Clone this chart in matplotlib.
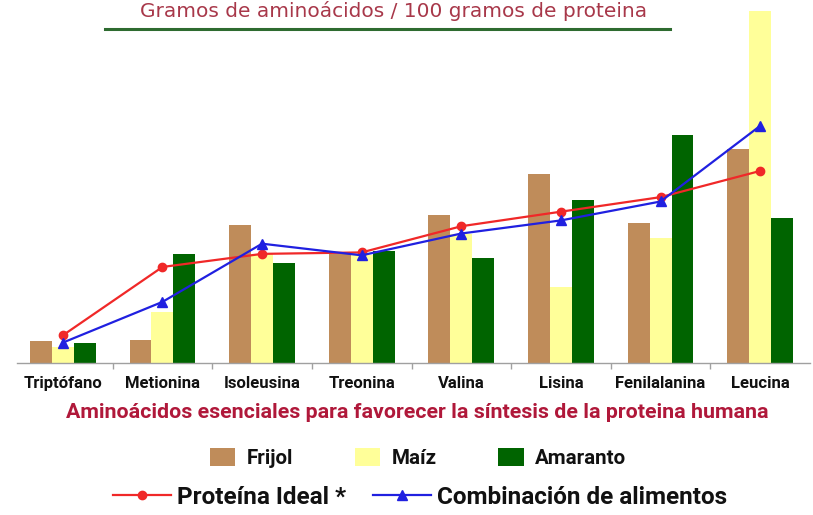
import matplotlib
matplotlib.use("Agg")
import matplotlib.pyplot as plt
from matplotlib.lines import Line2D
import numpy as np

categories = ["Triptófano", "Metionina", "Isoleusina", "Treonina", "Valina",
              "Lisina", "Fenilalanina", "Leucina"]
frijol = [0.75, 0.8, 4.75, 3.75, 5.1, 6.5, 4.8, 7.35]
maiz = [0.55, 1.75, 3.75, 3.7, 4.45, 2.6, 4.3, 12.1]
amaranto = [0.7, 3.75, 3.45, 3.85, 3.6, 5.6, 7.85, 5.0]
ideal = [0.95, 3.3, 3.75, 3.8, 4.7, 5.2, 5.7, 6.6]
combinacion = [0.7, 2.1, 4.1, 3.7, 4.45, 4.9, 5.55, 8.15]

title = "Gramos de aminoácidos / 100 gramos de proteina"
subtitle = "Aminoácidos esenciales para favorecer la síntesis de la proteina humana"

c_frijol = "#bf8c5a"
c_maiz = "#ffff99"
c_amar = "#006400"
narrow = ["Roboto", "DejaVu Sans"]

W, H = 813, 515
fig = plt.figure(figsize=(W / 100, H / 100), dpi=100)
fig.patch.set_facecolor("white")

base_px = 363
ax = fig.add_axes([17 / W, (H - base_px) / H, (810 - 17) / W, base_px / H])
x = np.arange(len(categories))
bw = 0.22
b1 = ax.bar(x - bw, frijol, bw, color=c_frijol, label="Frijol", zorder=2)
b2 = ax.bar(x, maiz, bw, color=c_maiz, label="Maíz", zorder=2)
b3 = ax.bar(x + bw, amaranto, bw, color=c_amar, label="Amaranto", zorder=2)
l1, = ax.plot(x, ideal, color="#f02828", lw=1.6, marker="o", ms=6,
              label="Proteína Ideal *", zorder=3)
l2, = ax.plot(x, combinacion, color="#2020e0", lw=1.6, marker="^", ms=7,
              label="Combinación de alimentos", zorder=4)

ax.set_xlim(-0.46, 7.5)
ax.set_ylim(0, base_px / 29.1)
for s in ["top", "right", "left"]:
    ax.spines[s].set_visible(False)
ax.spines["bottom"].set_color("#a0a0a0")
ax.spines["bottom"].set_linewidth(1.0)
ax.set_yticks([])
ax.set_xticks(np.arange(len(categories) - 1) + 0.5, minor=False)
ax.set_xticklabels([])
ax.tick_params(axis="x", length=4, color="#a0a0a0", width=1)
for i, c in enumerate(categories):
    ax.text(i, -0.72, c, ha="center", va="center", family=narrow,
            fontweight="bold", fontsize=12, color="#111111")
ax.set_facecolor("white")

fig.text(394 / W, 1 - 11 / H, title, ha="center", va="center",
         family="DejaVu Sans", fontsize=14.5, color="#a8384a")
fig.add_artist(Line2D([105 / W, 670 / W], [1 - 29 / H, 1 - 29 / H],
                      transform=fig.transFigure, color="#2e6b30", lw=2.2))

fig.text(417 / W, 1 - 413 / H, subtitle, ha="center", va="center",
         family=narrow, fontweight="bold", fontsize=15.4, color="#b0183a")

leg1 = fig.legend(handles=[b1, b2, b3], loc="center", ncol=3,
                  bbox_to_anchor=(418 / W, 1 - 458 / H), frameon=False,
                  prop={"family": narrow, "weight": "bold", "size": 14.8},
                  handlelength=1.25, handleheight=1.0, handletextpad=0.55,
                  columnspacing=3.0)
leg2 = fig.legend(handles=[l1, l2], loc="center", ncol=2,
                  bbox_to_anchor=(420 / W, 1 - 497 / H), frameon=False,
                  prop={"family": narrow, "weight": "bold", "size": 17.5},
                  handlelength=2.4, handletextpad=0.25, columnspacing=1.1)
for t in leg1.get_texts() + leg2.get_texts():
    t.set_color("#111111")

fig.savefig("out.png", dpi=100, facecolor="white")
